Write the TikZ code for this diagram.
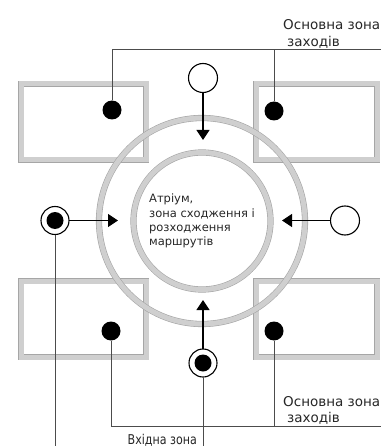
\documentclass[tikz,border=0pt]{standalone}
\usepackage{fontspec}
\setmainfont{DejaVu Sans}
\usetikzlibrary{arrows.meta}
\tikzset{
  bandline/.style={draw=gray!70, line width=0.6pt, double=gray!38, double distance=5pt},
  zone/.style={bandline, rectangle, minimum width=125pt, minimum height=76pt, inner sep=0pt, outer sep=0pt},
  spot/.style={circle, fill=black, minimum size=19pt, inner sep=0pt, outer sep=0pt},
  hollow/.style={circle, draw=black, line width=1.1pt, fill=white, minimum size=29pt, inner sep=0pt, outer sep=0pt},
  entry/.style={circle, draw=black, line width=1.1pt, fill=white, minimum size=28pt, inner sep=0pt, outer sep=0pt,
    path picture={\fill[black] (path picture bounding box.center) circle (8.5pt);}},
  flow/.style={line width=1.1pt, -{Triangle[length=10pt, width=13pt]}},
  leader/.style={draw=black!70, line width=0.6pt},
  lbl/.style={font=\fontsize{13.5}{17}\selectfont, text=black!85, inner sep=0pt},
}
\begin{document}
\begin{tikzpicture}[x=1pt, y=-1pt]
\useasboundingbox (0,0) rectangle (381,446);

% four zone boxes
\node[zone] (boxTL) at (83.5,122) {};
\node[zone, minimum width=121pt] (boxTR) at (316.5,122) {};
\node[zone] (boxBL) at (83.5,319) {};
\node[zone, minimum width=121pt] (boxBR) at (316.5,319) {};

% outer ring and the atrium
\coordinate (hub) at (202,221);
\draw[bandline] (hub) circle[radius=103pt];
\node[bandline, circle, minimum size=137pt, inner sep=0pt, align=left,
      font=\fontsize{11.5}{14.3}\selectfont, text=black!85] (atrium) at (hub)
  {Атріум,\\зона сходження і\\розходження\\маршрутів};

% dots inside the boxes
\node[spot] (dTL) at (112,110) {};
\node[spot] (dTR) at (274,111) {};
\node[spot] (dBL) at (111,331) {};
\node[spot] (dBR) at (274,331) {};

% entry and exit markers
\node[hollow] (outT) at (203,78) {};
\node[hollow] (outR) at (345,220.5) {};
\node[entry] (inL) at (55,220.5) {};
\node[entry] (inB) at (203,363) {};

% arrow tips
\coordinate (tipT) at (203,140);
\coordinate (tipR) at (282,220.5);
\coordinate (tipL) at (118,220.5);
\coordinate (tipB) at (203,300);

\draw[flow] (outT.south) -- (tipT);
\draw[flow] (outR.west) -- (tipR);
\draw[flow] (inL.east) -- (tipL);
\draw[flow] (inB.north) -- (tipB);

% leader lines
\coordinate (topEnd) at (381,49);
\coordinate (botEnd) at (381,426);
\coordinate (floor) at (0,446);
\draw[leader] (dTL.north) |- (topEnd);
\draw[leader] (dTR.north) -- (dTR.north |- topEnd);
\draw[leader] (dBL.south) |- (botEnd);
\draw[leader] (dBR.south) -- (dBR.south |- botEnd);
\draw[leader] (inL.south) -- (inL.south |- floor);
\draw[leader] (inB.south) -- (inB.south |- floor);

% labels
\node[lbl, anchor=west] (noteT1) at (283,25) {Основна зона};
\node[lbl, anchor=west] (noteT2) at (287,42) {заходів};
\node[lbl, anchor=west] (noteB1) at (283,402) {Основна зона};
\node[lbl, anchor=west] (noteB2) at (287,418) {заходів};
\node[lbl, anchor=east] (noteIn) at (197,440) {\scalebox{0.82}[1]{Вхідна зона}};
\end{tikzpicture}
\end{document}
